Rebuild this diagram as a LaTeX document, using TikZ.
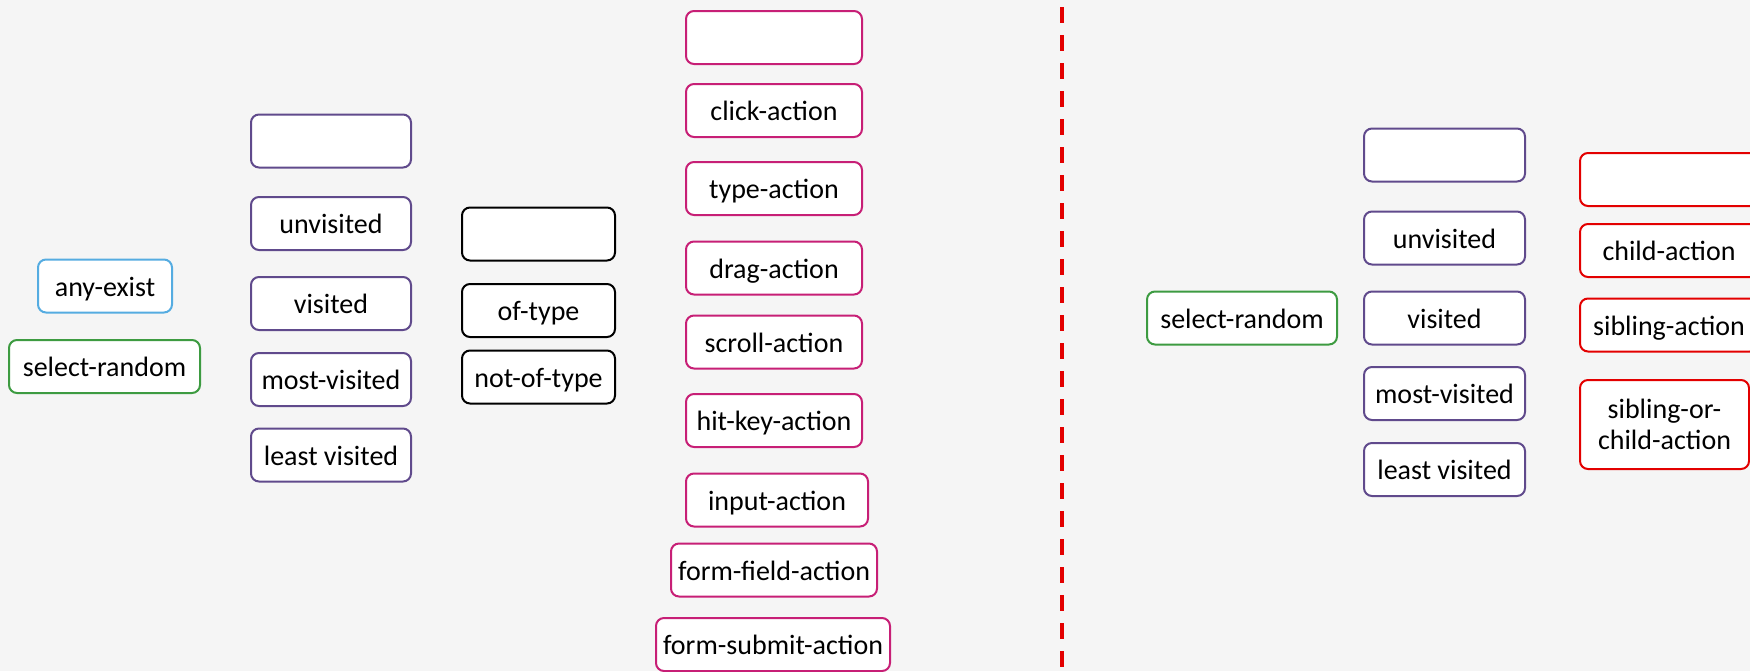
\documentclass[tikz,border=0pt]{standalone}
\usepackage{fontspec}
\setmainfont{Carlito}
\begin{document}
\begin{tikzpicture}[x=0.5pt,y=-0.5pt,
  every node/.style={font=\fontsize{14pt}{15.5pt}\selectfont},
  tag/.style={draw,fill=white,line width=1pt,rounded corners=4pt,
    inner sep=0pt,text height=1.15em,text depth=0.12em,align=center,
    minimum height=26.5pt},
  blueTag/.style={tag,draw=tagblue},
  greenTag/.style={tag,draw=taggreen},
  purpleTag/.style={tag,draw=tagpurple,minimum width=80pt},
  blackTag/.style={tag,draw=black,minimum width=76.5pt},
  pinkTag/.style={tag,draw=tagpink},
  redTag/.style={tag,draw=tagred,minimum width=89pt},
  divider/.style={draw=tagred,line width=2pt,dash pattern=on 8pt off 6pt}]
\definecolor{bg}{HTML}{F5F5F5}
\definecolor{tagblue}{HTML}{55ACE1}
\definecolor{taggreen}{HTML}{3D9B41}
\definecolor{tagpurple}{HTML}{604A8C}
\definecolor{tagpink}{HTML}{C71F76}
\definecolor{tagred}{HTML}{E30000}

\fill[bg] (0,0) rectangle (1750,671);
\useasboundingbox (0,0) rectangle (1750,671);
\clip (0,0) rectangle (1750,671);

% left group: selectors
\node[blueTag,minimum width=67pt] (anyexist) at (105,286) {any-exist};
\node[greenTag,minimum width=95.5pt] (selrandL) at (104.5,366.5) {select-random};

% visit filters
\node[purpleTag] (visEmptyL) at (331,141) {};
\node[purpleTag] (unvisitedL) at (331,223.5) {unvisited};
\node[purpleTag] (visitedL) at (331,303.5) {visited};
\node[purpleTag] (mostL) at (331,379.5) {most-visited};
\node[purpleTag] (leastL) at (331,455) {least visited};

% type filters
\node[blackTag] (typeEmpty) at (538.5,234) {};
\node[blackTag] (oftype) at (538.5,310.5) {of-type};
\node[blackTag] (notoftype) at (538.5,377) {not-of-type};

% actions
\node[pinkTag,minimum width=88pt] (actEmpty) at (774,37.5) {};
\node[pinkTag,minimum width=88pt] (click) at (774,110.5) {click-action};
\node[pinkTag,minimum width=88pt] (typeact) at (774,188.5) {type-action};
\node[pinkTag,minimum width=88pt] (drag) at (774,268) {drag-action};
\node[pinkTag,minimum width=88pt] (scroll) at (774,342) {scroll-action};
\node[pinkTag,minimum width=88pt] (hitkey) at (774,420.5) {hit-key-action};
\node[pinkTag,minimum width=91pt] (input) at (777,500) {input-action};
\node[pinkTag,minimum width=103pt] (formfield) at (774,570) {form-field-action};
\node[pinkTag,minimum width=117pt] (formsubmit) at (773,644.5) {form-submit-action};

% divider
\coordinate (divTop) at (1062,7);
\coordinate (divBot) at (1062,667);
\draw[divider] (divTop) -- (divBot);

% right group
\node[greenTag,minimum width=95pt] (selrandR) at (1242,318) {select-random};

\node[purpleTag,minimum width=80.5pt] (visEmptyR) at (1444.5,155) {};
\node[purpleTag,minimum width=80.5pt] (unvisitedR) at (1444.5,238) {unvisited};
\node[purpleTag,minimum width=80.5pt] (visitedR) at (1444.5,318) {visited};
\node[purpleTag,minimum width=80.5pt] (mostR) at (1444.5,393.5) {most-visited};
\node[purpleTag,minimum width=80.5pt] (leastR) at (1444.5,469.5) {least visited};

\node[redTag] (relEmpty) at (1669,179.5) {};
\node[redTag] (child) at (1669,250.5) {child-action};
\node[redTag] (sibling) at (1669,325) {sibling-action};
\node[redTag,minimum width=84.5pt,minimum height=44.5pt,text height=,text depth=] (sibchild) at (1664.5,424.5) {sibling-or-\\child-action};
\end{tikzpicture}
\end{document}
